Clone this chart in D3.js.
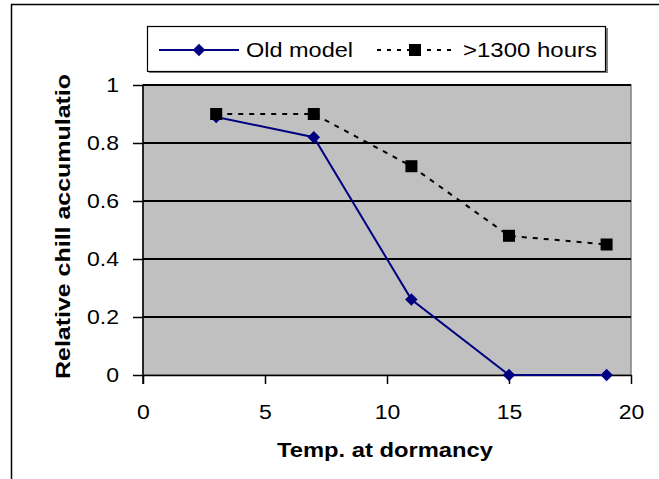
<!DOCTYPE html>
<html lang="en">
<head>
<meta charset="utf-8">
<script src="https://cdn.jsdelivr.net/npm/d3@7"></script>
<style>
    body { margin: 0; background: #fff; }
    .axis text { font-family: "Liberation Sans", Arial, sans-serif; font-size: 19.5px; fill: #000; }
    .axis path, .axis line { stroke: #000; stroke-width: 1.5; }
</style>
</head>
<body>
<script>
    // temperatures at dormancy (x values)
    let temps = [3, 7, 11, 15, 19];
    // relative chill accumulation for each series
    let oldModel = [0.89, 0.82, 0.26, 0, 0];
    let over1300 = [0.90, 0.90, 0.72, 0.48, 0.45];
    let seriesNames = ["Old model", ">1300 hours"];
    let xTicks = [0, 5, 10, 15, 20];
    let yTicks = [0, 0.2, 0.4, 0.6, 0.8, 1];

    let w = 659, h = 479;
    let padL = 143, padR = 631, padT = 85, padB = 375;
    let stretch = 1.18; // text in the original is drawn a bit wide

    let svg = d3.select("body").append("svg")
        .attr("width", w)
        .attr("height", h);

    // outer chart border (runs off the right and bottom edge)
    svg.append("path")
        .attr("d", `M11.5,${h + 5}V4.5H${w + 5}`)
        .attr("fill", "none")
        .attr("stroke", "#000")
        .attr("stroke-width", 1.5);

    let x = d3.scaleLinear().domain([0, 20]).range([padL, padR]);
    let y = d3.scaleLinear().domain([0, 1]).range([padB, padT]);

    // plot area
    svg.append("rect")
        .attr("x", padL).attr("y", padT)
        .attr("width", padR - padL).attr("height", padB - padT)
        .attr("fill", "#c0c0c0")
        .attr("stroke", "#808080")
        .attr("stroke-width", 1.5);

    // gridlines
    svg.append("g")
        .selectAll("line")
        .data(yTicks.filter(d => d > 0))
        .join("line")
        .attr("x1", padL).attr("x2", padR)
        .attr("y1", d => y(d)).attr("y2", d => y(d))
        .attr("stroke", "#000")
        .attr("stroke-width", 2)
        .attr("shape-rendering", "crispEdges");

    let xAxis = svg.append("g")
        .attr("class", "axis")
        .attr("transform", `translate(0,${padB})`)
        .call(d3.axisBottom(x).tickValues(xTicks).tickSize(9).tickPadding(21).tickSizeOuter(0));
    xAxis.selectAll("text")
        .attr("transform", `scale(${stretch},1)`);

    let yAxis = svg.append("g")
        .attr("class", "axis")
        .attr("transform", `translate(${padL},0)`)
        .call(d3.axisLeft(y).tickValues(yTicks).tickSize(10).tickPadding(14).tickSizeOuter(0)
            .tickFormat(d => d3.format("")(+d.toFixed(1))));
    yAxis.select(".domain").attr("d", `M0,${padB + 9}V${padT}`);
    yAxis.selectAll("text")
        .attr("x", 0)
        .attr("transform", `translate(-24,0) scale(${stretch},1)`);

    // axis titles
    svg.append("text")
        .attr("x", 385).attr("y", 457)
        .attr("text-anchor", "middle")
        .attr("textLength", 216)
        .attr("lengthAdjust", "spacingAndGlyphs")
        .style("font-family", "Liberation Sans, Arial, sans-serif")
        .style("font-size", "20.5px")
        .style("font-weight", "bold")
        .text("Temp. at dormancy");

    svg.append("text")
        .attr("transform", `translate(70,${(73 + 380) / 2}) rotate(-90)`)
        .attr("text-anchor", "middle")
        .attr("textLength", 305)
        .attr("lengthAdjust", "spacingAndGlyphs")
        .style("font-family", "Liberation Sans, Arial, sans-serif")
        .style("font-size", "20.5px")
        .style("font-weight", "bold")
        .text("Relative chill accumulatio");

    let pts1 = temps.map((t, i) => [x(t), y(oldModel[i])]);
    let pts2 = temps.map((t, i) => [x(t), y(over1300[i])]);

    // >1300 hours: dotted line, black squares
    svg.append("path")
        .attr("d", d3.line()(pts2))
        .attr("fill", "none")
        .attr("stroke", "#000")
        .attr("stroke-width", 2)
        .attr("stroke-dasharray", "5,6");

    // old model: navy line with diamonds
    svg.append("path")
        .attr("d", d3.line()(pts1))
        .attr("fill", "none")
        .attr("stroke", "#000080")
        .attr("stroke-width", 2);

    let diamond = d3.symbol().type(d3.symbolSquare).size(78);
    svg.append("g")
        .selectAll("path")
        .data(pts1)
        .join("path")
        .attr("d", diamond)
        .attr("transform", d => `translate(${d[0]},${d[1]}) rotate(45)`)
        .attr("fill", "#000080");

    svg.append("g")
        .selectAll("rect")
        .data(pts2)
        .join("rect")
        .attr("x", d => d[0] - 6).attr("y", d => d[1] - 6)
        .attr("width", 12).attr("height", 12)
        .attr("fill", "#000");

    // legend
    let legend = svg.append("g");
    legend.append("rect")
        .attr("x", 149).attr("y", 28)
        .attr("width", 459).attr("height", 45)
        .attr("fill", "#808080");
    legend.append("rect")
        .attr("x", 147.5).attr("y", 26.5)
        .attr("width", 458).attr("height", 45)
        .attr("fill", "#fff")
        .attr("stroke", "#000")
        .attr("stroke-width", 1.2);

    let ly = 50;
    legend.append("line")
        .attr("x1", 159).attr("x2", 239).attr("y1", ly).attr("y2", ly)
        .attr("stroke", "#000080").attr("stroke-width", 2);
    legend.append("path")
        .attr("d", diamond)
        .attr("transform", `translate(199,${ly}) rotate(45)`)
        .attr("fill", "#000080");
    legend.append("line")
        .attr("x1", 377).attr("x2", 453).attr("y1", ly).attr("y2", ly)
        .attr("stroke", "#000").attr("stroke-width", 2)
        .attr("stroke-dasharray", "4,6");
    legend.append("rect")
        .attr("x", 409).attr("y", ly - 6).attr("width", 12).attr("height", 12)
        .attr("fill", "#000");

    [[246, 107, seriesNames[0]], [463, 134, seriesNames[1]]].forEach(([lx, len, s]) => {
        legend.append("text")
            .attr("x", lx).attr("y", ly + 7)
            .attr("textLength", len)
            .attr("lengthAdjust", "spacingAndGlyphs")
            .style("font-family", "Liberation Sans, Arial, sans-serif")
            .style("font-size", "19.5px")
            .text(s);
    });
</script>
</body>
</html>
